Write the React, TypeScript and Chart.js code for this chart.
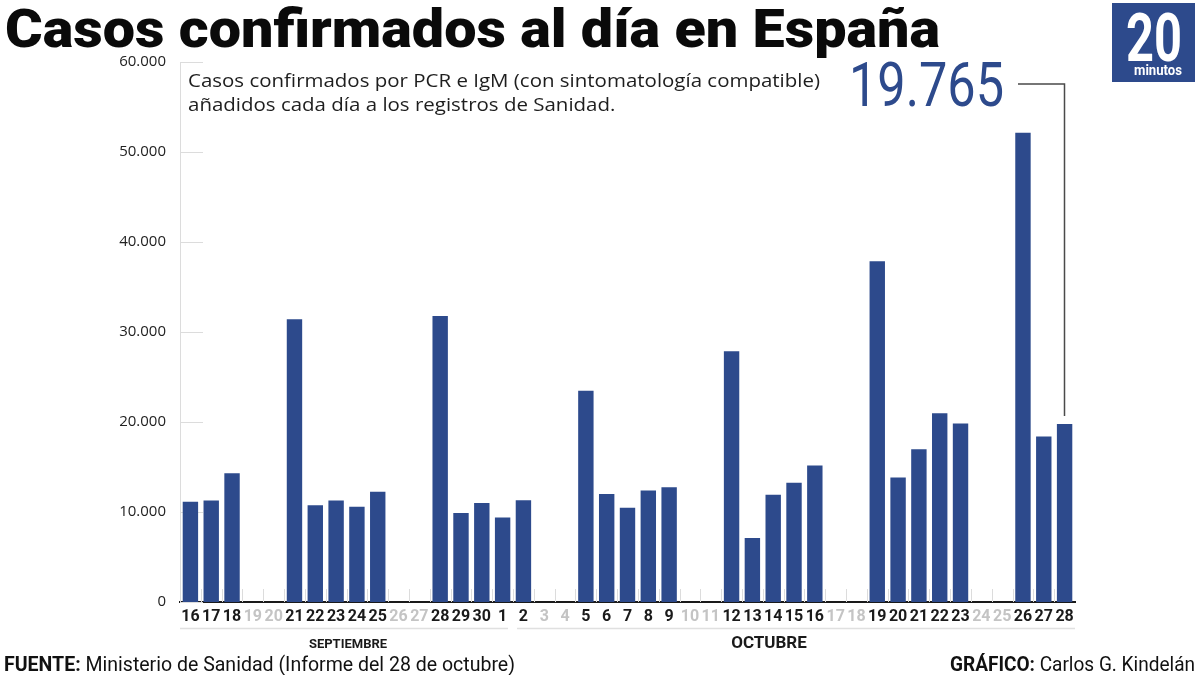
import { useEffect, useRef } from 'react';
import { Chart, registerables } from 'chart.js';

Chart.register(...registerables);

// Días del 16 de septiembre al 28 de octubre de 2020
const dayLabels = [
  '16', '17', '18', '19', '20', '21', '22', '23', '24', '25', '26', '27', '28', '29', '30',
  '1', '2', '3', '4', '5', '6', '7', '8', '9', '10', '11', '12', '13', '14', '15', '16',
  '17', '18', '19', '20', '21', '22', '23', '24', '25', '26', '27', '28',
];

// Casos añadidos cada día (null = fin de semana, sin informe)
const septiembreCases = [
  11150, 11290, 14300, null, null, 31430, 10750, 11290, 10580, 12250, null, null,
  31780, 9900, 11000,
];
const octubreCases = [
  9400, 11300, null, null, 23480, 12000, 10460, 12400, 12750, null, null, 27850,
  7100, 11920, 13250, 15180, null, null, 37850, 13820, 16960, 20980, 19830, null,
  null, 52150, 18380, 19765,
];
const cases: (number | null)[] = [...septiembreCases, ...octubreCases];

const yTicks = [0, 10000, 20000, 30000, 40000, 50000, 60000];

// Tramos de la fecha bajo el eje (índices de inicio y fin)
const monthNames = ['SEPTIEMBRE', 'OCTUBRE'];
const monthStart = [0, 16];
const monthEnd = [15, 42];

const TITLE = 'Casos confirmados al día en España';
const SUBTITLE_1 = 'Casos confirmados por PCR e IgM (con sintomatología compatible)';
const SUBTITLE_2 = 'añadidos cada día a los registros de Sanidad.';
const SOURCE_BOLD = 'FUENTE:';
const SOURCE_TEXT = ' Ministerio de Sanidad (Informe del 28 de octubre)';
const CREDIT_BOLD = 'GRÁFICO:';
const CREDIT_TEXT = ' Carlos G. Kindelán';

const BLUE = '#2d4a8c';

const fmt = (v: number) => String(Math.round(v)).replace(/\B(?=(\d{3})+(?!\d))/g, '.');

// Texto comprimido horizontalmente hasta ocupar un ancho dado
function fitText(ctx: CanvasRenderingContext2D, text: string, x: number, y: number, width: number) {
  const w = ctx.measureText(text).width;
  ctx.save();
  ctx.translate(x, y);
  ctx.scale(width / w, 1);
  ctx.textAlign = 'left';
  ctx.fillText(text, 0, 0);
  ctx.restore();
}

// Dos tramos (negrita + normal) ajustados juntos a un ancho
function fitPair(
  ctx: CanvasRenderingContext2D,
  bold: string,
  rest: string,
  x: number,
  y: number,
  width: number,
  size: number,
) {
  const boldFont = `bold ${size}px Roboto`;
  const restFont = `${size}px Roboto`;
  ctx.font = boldFont;
  const wb = ctx.measureText(bold).width;
  ctx.font = restFont;
  const wr = ctx.measureText(rest).width;
  const s = width / (wb + wr);
  ctx.save();
  ctx.translate(x, y);
  ctx.scale(s, 1);
  ctx.textAlign = 'left';
  ctx.font = boldFont;
  ctx.fillText(bold, 0, 0);
  ctx.font = restFont;
  ctx.fillText(rest, wb, 0);
  ctx.restore();
}

const decorations = {
  id: 'decorations',
  beforeDatasetsDraw(chart: Chart) {
    const { ctx, chartArea } = chart;
    const x = chart.scales.x;
    const y = chart.scales.y;
    ctx.save();
    ctx.strokeStyle = '#dcdcdc';
    ctx.lineWidth = 1;
    // marcas cortas de la rejilla horizontal
    yTicks.forEach((v) => {
      const py = Math.round(y.getPixelForValue(v)) + 0.5;
      ctx.beginPath();
      ctx.moveTo(chartArea.left, py);
      ctx.lineTo(chartArea.left + 23, py);
      ctx.stroke();
    });
    // separadores entre días, al pie
    for (let i = 0; i < dayLabels.length - 1; i++) {
      const px = Math.round((x.getPixelForValue(i) + x.getPixelForValue(i + 1)) / 2) + 0.5;
      ctx.beginPath();
      ctx.moveTo(px, chartArea.bottom - 13);
      ctx.lineTo(px, chartArea.bottom);
      ctx.stroke();
    }
    ctx.restore();
  },
  afterDraw(chart: Chart) {
    const { ctx, chartArea } = chart;
    const x = chart.scales.x;
    const half = (x.getPixelForValue(1) - x.getPixelForValue(0)) / 2;
    ctx.save();
    ctx.textBaseline = 'alphabetic';

    // título
    ctx.fillStyle = '#0a0a0a';
    ctx.font = '900 54px Roboto';
    fitText(ctx, TITLE, 5, 47, 935);

    // subtítulo
    ctx.fillStyle = '#1e1e1e';
    ctx.font = '18px "Open Sans"';
    const w1 = ctx.measureText(SUBTITLE_1).width;
    const s = 632 / w1;
    ctx.save();
    ctx.translate(188, 87);
    ctx.scale(s, 1);
    ctx.fillText(SUBTITLE_1, 0, 0);
    ctx.fillText(SUBTITLE_2, 0, 24);
    ctx.restore();

    // logotipo
    ctx.fillStyle = BLUE;
    ctx.fillRect(1112, 3, 83, 79);
    ctx.fillStyle = '#ffffff';
    ctx.font = 'bold 66px Roboto';
    fitText(ctx, '20', 1126, 61, 56);
    ctx.font = 'bold 15px Roboto';
    fitText(ctx, 'minutos', 1134, 75, 48);

    // último valor y su línea guía
    const last = cases.length - 1;
    const lastValue = cases[last] as number;
    const bar = chart.getDatasetMeta(0).data[last];
    ctx.fillStyle = BLUE;
    ctx.font = '400 62px Roboto';
    fitText(ctx, fmt(lastValue), 849, 106, 155);
    ctx.strokeStyle = '#4a4a4a';
    ctx.lineWidth = 1.5;
    ctx.beginPath();
    ctx.moveTo(1018, 84);
    ctx.lineTo(Math.round(bar.x) - 0.5, 84);
    ctx.lineTo(Math.round(bar.x) - 0.5, bar.y - 8);
    ctx.stroke();

    // meses bajo el eje
    ctx.strokeStyle = '#e0e0e0';
    ctx.lineWidth = 1.5;
    monthNames.forEach((name, m) => {
      const a = m === 0 ? chartArea.left : x.getPixelForValue(monthStart[m]) - half + 4;
      const b = m === monthNames.length - 1 ? chartArea.right : x.getPixelForValue(monthEnd[m]) + half - 5;
      ctx.beginPath();
      ctx.moveTo(a, 628.5);
      ctx.lineTo(b, 628.5);
      ctx.stroke();
    });
    ctx.fillStyle = '#1a1a1a';
    ctx.textAlign = 'center';
    ctx.font = 'bold 13px Roboto';
    ctx.fillText(monthNames[0], 348, 648);
    ctx.font = 'bold 17px Roboto';
    ctx.fillText(monthNames[1], 769, 648);

    // fuente y autoría
    ctx.fillStyle = '#111111';
    fitPair(ctx, SOURCE_BOLD, SOURCE_TEXT, 4, 671, 511, 20);
    fitPair(ctx, CREDIT_BOLD, CREDIT_TEXT, 950, 671, 245, 20);
    ctx.restore();
  },
};

export default function App() {
  const canvasRef = useRef<HTMLCanvasElement | null>(null);

  useEffect(() => {
    if (!canvasRef.current) return;
    const chart = new Chart(canvasRef.current, {
      type: 'bar',
      data: {
        labels: dayLabels,
        datasets: [
          {
            data: cases,
            backgroundColor: BLUE,
            borderWidth: 0,
            barPercentage: 0.74,
            categoryPercentage: 1,
          },
        ],
      },
      options: {
        responsive: false,
        animation: false,
        devicePixelRatio: 1,
        layout: { padding: { left: 0, right: 125, top: 62, bottom: 0 } },
        plugins: {
          legend: { display: false },
          tooltip: { enabled: false },
          title: { display: false },
        },
        scales: {
          x: {
            grid: { display: false, drawTicks: false },
            border: { display: true, color: '#1a1a1a', width: 2 },
            afterFit: (scale: any) => {
              scale.height = 73;
            },
            ticks: {
              autoSkip: false,
              maxRotation: 0,
              minRotation: 0,
              padding: 5,
              font: { family: 'Roboto', size: 16, weight: 'bold' },
              color: (c: any) => (cases[c.index] == null ? '#c4c4c4' : '#1a1a1a'),
            },
          },
          y: {
            min: 0,
            max: 60000,
            afterFit: (scale: any) => {
              scale.width = 180;
            },
            afterBuildTicks: (scale: any) => {
              scale.ticks = yTicks.map((v) => ({ value: v }));
            },
            grid: { display: false, drawTicks: false },
            border: { display: true, color: '#dcdcdc', width: 1 },
            ticks: {
              padding: 14,
              font: { family: 'Open Sans', size: 15 },
              color: '#222222',
              callback: (v: any) => fmt(Number(v)),
            },
          },
        },
      },
      plugins: [decorations],
    });
    return () => chart.destroy();
  }, []);

  return (
    <div style={{ position: 'fixed', left: 0, top: 0, width: 1200, height: 675, background: '#ffffff' }}>
      <canvas ref={canvasRef} width={1200} height={675} />
    </div>
  );
}
